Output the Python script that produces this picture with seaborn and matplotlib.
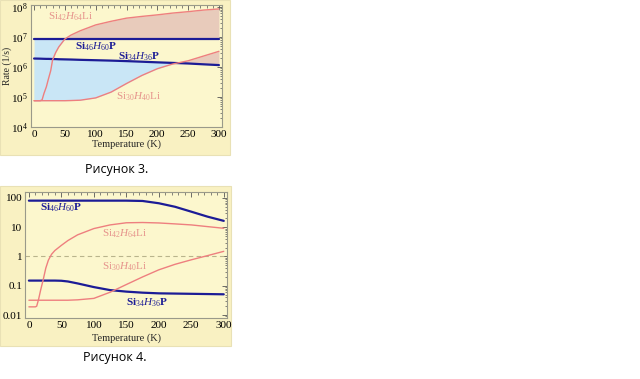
import numpy as np
import pandas as pd
import matplotlib
matplotlib.use("Agg")
import matplotlib.pyplot as plt
import matplotlib.patches as mpatches
from matplotlib.ticker import LogLocator, MultipleLocator, FixedLocator, FixedFormatter, NullFormatter
import seaborn as sns

# ---------------- data ----------------
T_top = [0, 5, 10, 13, 16, 20, 23, 27, 30, 35, 40, 50, 60, 75, 100, 125, 150, 175, 200, 225, 250, 275, 300]
top_si42 = [7.5e4, 7.5e4, 7.5e4, 8e4, 1.3e5, 2.2e5, 3.8e5, 7.5e5, 1.7e6, 3.0e6, 4.6e6, 8.5e6, 1.15e7, 1.6e7,
            2.5e7, 3.3e7, 4.2e7, 4.8e7, 5.4e7, 6.2e7, 6.9e7, 7.8e7, 8.5e7]
top_si30 = [7.5e4, 7.5e4, 7.5e4, 7.5e4, 7.5e4, 7.5e4, 7.5e4, 7.5e4, 7.5e4, 7.5e4, 7.5e4, 7.5e4, 7.6e4, 7.8e4,
            9.3e4, 1.45e5, 2.8e5, 5.2e5, 8.7e5, 1.25e6, 1.6e6, 2.3e6, 3.3e6]
top_si46 = [8.5e6] * 23
top_si34 = [1.9e6, 1.89e6, 1.88e6, 1.87e6, 1.86e6, 1.85e6, 1.85e6, 1.84e6, 1.83e6, 1.82e6, 1.8e6, 1.78e6,
            1.76e6, 1.72e6, 1.67e6, 1.62e6, 1.56e6, 1.49e6, 1.42e6, 1.36e6, 1.3e6, 1.22e6, 1.15e6]

T_bot = [0, 5, 10, 12, 15, 18, 22, 26, 30, 35, 40, 50, 60, 75, 100, 125, 150, 175, 200, 225, 250, 275, 300]
bot_si46 = [81, 81, 81, 81, 81, 81, 81, 81, 81, 81, 81, 81, 81, 81, 81, 81, 81, 79, 66, 50, 34, 23, 16.5]
bot_si34 = [0.15, 0.15, 0.15, 0.15, 0.15, 0.15, 0.15, 0.15, 0.15, 0.15, 0.15, 0.148, 0.14, 0.12, 0.09,
            0.071, 0.063, 0.058, 0.055, 0.054, 0.053, 0.052, 0.051]
bot_si42 = [0.019, 0.019, 0.019, 0.02, 0.035, 0.07, 0.16, 0.4, 0.75, 1.2, 1.6, 2.4, 3.5, 5.5, 9, 12, 14.2,
            14.5, 14, 13, 12, 10.5, 9.2]
bot_si30 = [0.032, 0.032, 0.032, 0.032, 0.032, 0.032, 0.032, 0.032, 0.032, 0.032, 0.032, 0.032, 0.032,
            0.033, 0.037, 0.06, 0.11, 0.2, 0.35, 0.54, 0.77, 1.07, 1.5]

bot_ytick_vals = [0.01, 0.1, 1, 10, 100]
bot_ytick_labels = ["0.01", "0.1", "1", "10", "100"]
xtick_vals = [0, 50, 100, 150, 200, 250, 300]

lab_si42 = r"Si$_{42}$$\mathit{H}_{64}$Li"
lab_si30 = r"Si$_{30}$$\mathit{H}_{40}$Li"
lab_si46 = r"Si$_{46}$$\mathit{H}_{60}$P"
lab_si34 = r"Si$_{34}$$\mathit{H}_{36}$P"

# ---------------- style ----------------
sns.set_theme(style="white")
plt.rcParams["font.family"] = ["Liberation Serif", "DejaVu Serif"]
plt.rcParams["mathtext.fontset"] = "custom"
plt.rcParams["mathtext.rm"] = "Liberation Serif"
plt.rcParams["mathtext.it"] = "Liberation Serif:italic"
plt.rcParams["mathtext.bf"] = "Liberation Serif:bold"

BLUE = "#1c1c96"
PINK = "#ee7f7f"
PINK_TXT = "#e6938c"
FILL_BLUE = "#c9e6f6"
FILL_PINK = "#e8cbbb"
PANEL = "#f9f1c2"
AXBG = "#fcf7cd"
FRAME = "#9a9a8a"

fig = plt.figure(figsize=(6.4, 3.79), dpi=100)
fig.patch.set_facecolor("white")

W, H = 640.0, 379.0
def fr(x0, y0, x1, y1):
    return [x0 / W, 1 - y1 / H, (x1 - x0) / W, (y1 - y0) / H]

# panel backgrounds
for (x0, y0, x1, y1) in [(0, 0, 230, 155), (0, 186, 231, 346)]:
    r = mpatches.Rectangle((x0 / W, 1 - y1 / H), (x1 - x0) / W, (y1 - y0) / H,
                           transform=fig.transFigure, facecolor=PANEL, edgecolor="#e9e1b5",
                           linewidth=0.8, zorder=-5)
    fig.patches.append(r)

ax1 = fig.add_axes(fr(31, 5, 222, 127), zorder=2)
ax2 = fig.add_axes(fr(25, 192, 227, 318), zorder=2)

def style_axes(ax):
    ax.set_facecolor(AXBG)
    for s in ax.spines.values():
        s.set_color(FRAME)
        s.set_linewidth(0.8)
        s.set_visible(True)
    ax.tick_params(which="both", direction="in", top=True, right=True, colors="#555555",
                   labelcolor="black", labelsize=8, pad=2)
    ax.tick_params(which="major", length=3.5, width=0.6)
    ax.tick_params(which="minor", length=1.8, width=0.5)
    ax.xaxis.set_major_locator(FixedLocator(xtick_vals))
    ax.xaxis.set_minor_locator(MultipleLocator(10))

# ---------------- top panel ----------------
df_top = pd.DataFrame({"T": T_top, "si42": top_si42, "si30": top_si30, "si46": top_si46, "si34": top_si34})
style_axes(ax1)
ax1.set_yscale("log")
t = np.array(T_top, dtype=float)
a42, a46 = np.array(top_si42), np.array(top_si46)
a30, a34 = np.array(top_si30), np.array(top_si34)
ax1.fill_between(t, a42, a46, where=a42 <= a46, interpolate=True, color=FILL_BLUE, lw=0, zorder=1)
ax1.fill_between(t, a42, a46, where=a42 >= a46, interpolate=True, color=FILL_PINK, lw=0, zorder=1)
ax1.fill_between(t, a30, a34, where=a30 <= a34, interpolate=True, color=FILL_BLUE, lw=0, zorder=1)
ax1.fill_between(t, a30, a34, where=a30 >= a34, interpolate=True, color=FILL_PINK, lw=0, zorder=1)
sns.lineplot(data=df_top, x="T", y="si46", ax=ax1, color=BLUE, lw=1.6, zorder=3)
sns.lineplot(data=df_top, x="T", y="si34", ax=ax1, color=BLUE, lw=1.6, zorder=3)
sns.lineplot(data=df_top, x="T", y="si42", ax=ax1, color=PINK, lw=1.0, zorder=4)
sns.lineplot(data=df_top, x="T", y="si30", ax=ax1, color=PINK, lw=1.0, zorder=4)
ax1.set_xlim(-5, 305)
ax1.set_ylim(1e4, 1.15e8)
ax1.yaxis.set_major_locator(LogLocator(base=10, numticks=10))
ax1.yaxis.set_minor_locator(LogLocator(base=10, subs=np.arange(2, 10), numticks=20))
ax1.yaxis.set_minor_formatter(NullFormatter())
ax1.set_xlabel("Temperature (K)", fontsize=7.5)
ax1.set_ylabel("Rate (1/s)", fontsize=7)
ax1.xaxis.set_label_coords(0.5, -0.1)
ax1.yaxis.set_label_coords(-0.098, 0.5)

ax1.text(60, 4.5e7, lab_si42, color=PINK_TXT, fontsize=8, ha="center", va="center", zorder=5)
ax1.text(100, 4.6e6, lab_si46, color=BLUE, fontsize=8, fontweight="bold", ha="center", va="center", zorder=5)
ax1.text(170, 2.1e6, lab_si34, color=BLUE, fontsize=8, fontweight="bold", ha="center", va="center", zorder=5)
ax1.text(170, 1.0e5, lab_si30, color=PINK_TXT, fontsize=8, ha="center", va="center", zorder=5)

# ---------------- bottom panel ----------------
df_bot = pd.DataFrame({"T": T_bot, "si42": bot_si42, "si30": bot_si30, "si46": bot_si46, "si34": bot_si34})
style_axes(ax2)
ax2.set_yscale("log")
ax2.axhline(1, color="#b9b48c", lw=0.8, ls=(0, (4, 3)), zorder=2)
sns.lineplot(data=df_bot, x="T", y="si46", ax=ax2, color=BLUE, lw=1.6, zorder=3)
sns.lineplot(data=df_bot, x="T", y="si34", ax=ax2, color=BLUE, lw=1.6, zorder=3)
sns.lineplot(data=df_bot, x="T", y="si42", ax=ax2, color=PINK, lw=1.0, zorder=4)
sns.lineplot(data=df_bot, x="T", y="si30", ax=ax2, color=PINK, lw=1.0, zorder=4)
ax2.set_xlim(-6, 305)
ax2.set_ylim(0.0079, 160)
ax2.yaxis.set_major_locator(FixedLocator(bot_ytick_vals))
ax2.yaxis.set_major_formatter(FixedFormatter(bot_ytick_labels))
ax2.yaxis.set_minor_locator(LogLocator(base=10, subs=np.arange(2, 10), numticks=20))
ax2.yaxis.set_minor_formatter(NullFormatter())
ax2.set_xlabel("Temperature (K)", fontsize=7.5)
ax2.set_ylabel("")
ax2.xaxis.set_label_coords(0.5, -0.125)

ax2.text(50, 45, lab_si46, color=BLUE, fontsize=8, fontweight="bold", ha="center", va="center", zorder=5)
ax2.text(147, 5.9, lab_si42, color=PINK_TXT, fontsize=8, ha="center", va="center", zorder=5)
ax2.text(148, 0.44, lab_si30, color=PINK_TXT, fontsize=8, ha="center", va="center", zorder=5)
ax2.text(182, 0.026, lab_si34, color=BLUE, fontsize=8, fontweight="bold", ha="center", va="center", zorder=5)

# captions
fig.text(117 / W, 1 - 170 / H, "Рисунок 3.", fontsize=9, family=["Open Sans", "DejaVu Sans"],
         ha="center", va="center", color="black")
fig.text(115 / W, 1 - 358 / H, "Рисунок 4.", fontsize=9, family=["Open Sans", "DejaVu Sans"],
         ha="center", va="center", color="black")

fig.savefig("out.png", dpi=100, facecolor="white")
